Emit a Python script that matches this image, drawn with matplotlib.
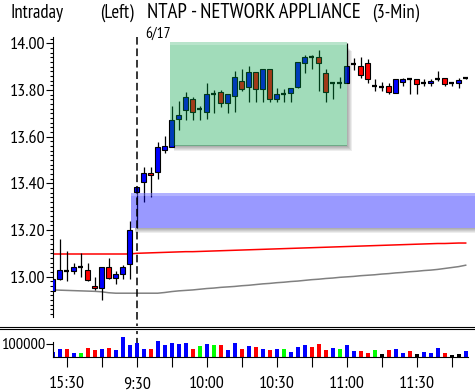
import matplotlib
matplotlib.use("Agg")
import matplotlib.pyplot as plt
from matplotlib.patches import Rectangle
from matplotlib import font_manager as fm
from matplotlib.transforms import blended_transform_factory

# ---------------- data ----------------
times = ['15:24', '15:27', '15:30', '15:33', '15:36', '15:39', '15:42', '15:45', '15:48', '15:51',
         '15:54', '15:57',
         '9:30', '9:33', '9:36', '9:39', '9:42', '9:45', '9:48', '9:51', '9:54', '9:57',
         '10:00', '10:03', '10:06', '10:09', '10:12', '10:15', '10:18', '10:21', '10:24', '10:27',
         '10:30', '10:33', '10:36', '10:39', '10:42', '10:45', '10:48', '10:51', '10:54', '10:57',
         '11:00', '11:03', '11:06', '11:09', '11:12', '11:15', '11:18', '11:21', '11:24', '11:27',
         '11:30', '11:33', '11:36', '11:39', '11:42', '11:45', '11:48', '11:51']

opens = [12.940, 12.990, 13.025, 13.025, 13.040, 13.027, 12.960, 12.950, 13.040, 12.993,
         13.010, 13.053, 13.362, 13.404, 13.446, 13.450, 13.543, 13.557, 13.674, 13.713,
         13.760, 13.720, 13.706, 13.783, 13.790, 13.743, 13.774, 13.840, 13.814, 13.878,
         13.803, 13.889, 13.763, 13.783, 13.786, 13.814, 13.914, 13.940, 13.940, 13.871,
         13.829, 13.829, 13.831, 13.911, 13.903, 13.917, 13.818, 13.814, 13.818, 13.786,
         13.833, 13.847, 13.847, 13.829, 13.829, 13.847, 13.850, 13.829, 13.831, 13.850]
highs = [12.990, 13.160, 13.110, 13.060, 13.100, 13.060, 13.000, 13.040, 13.079, 13.024,
         13.050, 13.239, 13.386, 13.469, 13.469, 13.578, 13.603, 13.730, 13.753, 13.791,
         13.769, 13.730, 13.831, 13.800, 13.800, 13.781, 13.880, 13.889, 13.903, 13.878,
         13.889, 13.889, 13.810, 13.803, 13.810, 13.920, 13.950, 13.950, 13.971, 13.889,
         13.829, 13.857, 14.003, 13.936, 13.940, 13.931, 13.846, 13.835, 13.829, 13.847,
         13.853, 13.847, 13.847, 13.847, 13.847, 13.881, 13.850, 13.829, 13.850, 13.852]
lows = [12.940, 12.985, 12.980, 13.010, 12.997, 12.980, 12.944, 12.900, 12.990, 12.970,
        12.990, 12.990, 13.210, 13.320, 13.340, 13.417, 13.530, 13.555, 13.630, 13.671,
        13.670, 13.670, 13.677, 13.700, 13.728, 13.700, 13.707, 13.797, 13.750, 13.750,
        13.750, 13.749, 13.749, 13.749, 13.749, 13.810, 13.871, 13.889, 13.797, 13.749,
        13.760, 13.810, 13.831, 13.886, 13.850, 13.829, 13.797, 13.797, 13.781, 13.786,
        13.818, 13.783, 13.783, 13.818, 13.818, 13.840, 13.818, 13.818, 13.810, 13.848]
closes = [12.990, 13.027, 13.025, 13.040, 13.040, 12.985, 12.950, 13.040, 12.993, 13.010,
          13.040, 13.200, 13.386, 13.446, 13.436, 13.557, 13.560, 13.670, 13.692, 13.769,
          13.706, 13.720, 13.783, 13.783, 13.743, 13.781, 13.857, 13.803, 13.878, 13.803,
          13.889, 13.760, 13.783, 13.783, 13.810, 13.920, 13.940, 13.940, 13.914, 13.793,
          13.829, 13.829, 13.903, 13.911, 13.864, 13.846, 13.818, 13.814, 13.793, 13.847,
          13.847, 13.847, 13.824, 13.829, 13.840, 13.847, 13.824, 13.829, 13.843, 13.850]

volumes = [34000, 58000, 58000, 26000, 26000, 66000, 50000, 58000, 66000, 50000,
           153000, 89000, 105000, 58000, 58000, 121000, 92000, 105000, 100000, 105000,
           58000, 82000, 97000, 89000, 89000, 50000, 105000, 58000, 82000, 74000,
           58000, 50000, 58000, 58000, 34000, 74000, 89000, 74000, 97000, 50000,
           66000, 58000, 89000, 42000, 42000, 26000, 50000, 18000, 50000, 58000,
           26000, 42000, 18000, 34000, 26000, 66000, 26000, 10000, 18000, 42000]
volume_dir = ['b', 'b', 'r', 'b', 'g', 'r', 'r', 'b', 'r', 'b',
              'b', 'b', 'b', 'b', 'r', 'b', 'b', 'b', 'b', 'b',
              'r', 'g', 'b', 'g', 'r', 'b', 'b', 'r', 'b', 'r',
              'b', 'r', 'b', 'g', 'b', 'b', 'b', 'r', 'r', 'r',
              'b', 'g', 'b', 'b', 'r', 'r', 'g', 'k', 'r', 'b',
              'b', 'r', 'k', 'b', 'b', 'b', 'r', 'k', 'k', 'b']

red_line = [13.097, 13.097, 13.097, 13.097, 13.097, 13.097, 13.097, 13.097, 13.097, 13.097,
            13.097, 13.097, 13.100, 13.101, 13.102, 13.103, 13.104, 13.105, 13.106, 13.107,
            13.107, 13.108, 13.109, 13.110, 13.111, 13.112, 13.113, 13.114, 13.115, 13.116,
            13.117, 13.118, 13.119, 13.120, 13.121, 13.122, 13.123, 13.124, 13.125, 13.126,
            13.127, 13.128, 13.129, 13.130, 13.131, 13.132, 13.133, 13.134, 13.135, 13.136,
            13.137, 13.138, 13.139, 13.140, 13.141, 13.142, 13.142, 13.143, 13.144, 13.144]
gray_line = [12.943, 12.942, 12.941, 12.940, 12.939, 12.938, 12.937, 12.935, 12.931, 12.929,
             12.929, 12.929, 12.929, 12.929, 12.929, 12.929, 12.932, 12.936, 12.939, 12.941,
             12.943, 12.946, 12.949, 12.951, 12.954, 12.956, 12.958, 12.961, 12.963, 12.966,
             12.969, 12.971, 12.974, 12.976, 12.979, 12.981, 12.984, 12.987, 12.989, 12.992,
             12.994, 12.997, 12.999, 13.001, 13.004, 13.006, 13.008, 13.011, 13.013, 13.016,
             13.018, 13.021, 13.023, 13.026, 13.028, 13.031, 13.035, 13.039, 13.043, 13.049]

major_tick_labels = ['15:30', '9:30', '10:00', '10:30', '11:00', '11:30']
minor_tick_times = ['15:45', '9:45', '10:15', '10:45', '11:15', '11:45']
price_ticks = [13.00, 13.20, 13.40, 13.60, 13.80, 14.00]
volume_ticks = [100000]
session_break = '9:30'
session_label = '6/17'

# ---------------- style ----------------
names = {f.name for f in fm.fontManager.ttflist}
FAMILY = 'DejaVu Sans'
for cand in ['PT Sans Narrow', 'Archivo Narrow', 'Roboto Condensed', 'Liberation Sans Narrow']:
    if cand in names:
        FAMILY = cand
        break
plt.rcParams['font.family'] = [FAMILY, 'DejaVu Sans']

W, H = 475, 392
fig = plt.figure(figsize=(W / 100, H / 100), dpi=100)
fig.patch.set_facecolor('white')

def fx(px):
    return px / W

def fy(py):
    return (H - py) / H

AX_L, AX_R, AX_T, AX_B = 52.7, 475, 37, 317
V_T, V_B = 331, 356.7
ax = fig.add_axes([fx(AX_L), fy(AX_B), fx(AX_R - AX_L), fy(AX_T) - fy(AX_B)])
axv = fig.add_axes([fx(AX_L), fy(V_B), fx(AX_R - AX_L), fy(V_T) - fy(V_B)], sharex=ax)

XMAX = (AX_R - AX_L) / 7.0
YMIN, YMAX = 12.827, 14.027
VMAX = 202000
ax.set_xlim(0, XMAX)
ax.set_ylim(YMIN, YMAX)
px_x = XMAX / (AX_R - AX_L)          # data units per pixel, x
px_y = (YMAX - YMIN) / (AX_B - AX_T)  # data units per pixel, y

idx = list(range(len(times)))
BLUE, RED = '#0000ff', '#ff0000'
vcol = {'b': '#0000ff', 'r': '#ff0000', 'g': '#00ff00', 'k': '#000000'}

# lines
ax.plot(idx, red_line, color='#ff0000', lw=1.1, zorder=2)
ax.plot(idx, gray_line, color='#808080', lw=1.1, zorder=2)

# candles
bw = 0.64
for i, o, h, l, c in zip(idx, opens, highs, lows, closes):
    ax.vlines(i, l, h, color='black', lw=0.9, zorder=3)
    if abs(c - o) < 1e-6:
        ax.hlines(c, i - bw / 2, i + bw / 2, color='black', lw=1.6, zorder=4)
    else:
        ax.add_patch(Rectangle((i - bw / 2, min(o, c)), bw, abs(c - o),
                               facecolor=BLUE if c > o else RED, edgecolor='black',
                               lw=0.8, zorder=4))

# highlight boxes (annotation shapes) with drop shadow outside the box
def shadow_box(x0, x1, y0, y1, color, alpha, z):
    for k in range(1, 6):
        dx, dy = k * px_x, k * px_y
        ax.add_patch(Rectangle((x1, y0 - dy), dx, y1 - y0 - 4 * px_y, facecolor='black',
                               alpha=0.07, edgecolor='none', zorder=z))
        ax.add_patch(Rectangle((x0 + 4 * px_x, y0 - dy), x1 - x0 - 4 * px_x, dy,
                               facecolor='black', alpha=0.07, edgecolor='none', zorder=z))
    ax.add_patch(Rectangle((x0, y0), x1 - x0, y1 - y0, facecolor=color, alpha=alpha,
                           edgecolor='none', zorder=z))
    ax.add_patch(Rectangle((x0, y1 - 3 * px_y), x1 - x0, 3 * px_y, facecolor='white',
                           alpha=0.25, edgecolor='none', zorder=z + 0.1))

shadow_box(16.76, 42.05, 13.562, 14.006, '#00a244', 0.37, 5)
shadow_box(11.2, 62.0, 13.207, 13.357, '#0000ff', 0.40, 5)

# session divider
brk = times.index(session_break)
tr = blended_transform_factory(ax.transData, ax.transAxes)
ax.plot([brk, brk], [1.0, -0.033], transform=tr, color='black', lw=1.1,
        ls=(0, (5, 2.5)), clip_on=False, zorder=6)
axv.axvline(brk, color='black', lw=1.1, ls=(0, (5, 2.5)), zorder=1)
ax.text(brk + 1.2, fy(37.5), session_label,
        transform=blended_transform_factory(ax.transData, fig.transFigure),
        ha='left', va='baseline', fontsize=11.2)

# price axis
for s in ['top', 'right', 'bottom']:
    ax.spines[s].set_visible(False)
ax.spines['left'].set_linewidth(0.8)
ax.set_yticks(price_ticks)
ax.set_yticklabels([f'{v:.2f}' for v in price_ticks])
ax.set_yticks([13.00 + 0.02 * k for k in range(-8, 52)], minor=True)
ax.tick_params(axis='y', which='major', length=5, width=0.8, pad=0.5, labelsize=13)
ax.tick_params(axis='y', which='minor', length=2.2, width=0.8)
ax.tick_params(axis='x', which='both', bottom=False, labelbottom=False)

# volume
axv.bar(idx, volumes, width=0.57, color=[vcol[c] for c in volume_dir], edgecolor='none', zorder=2)
axv.set_ylim(0, VMAX)
for s in ['top', 'right']:
    axv.spines[s].set_visible(False)
axv.spines['left'].set_linewidth(0.8)
axv.spines['bottom'].set_linewidth(0.8)
axv.spines['bottom'].set_bounds(0, 59.3)
axv.spines['left'].set_bounds(0, 118000)
axv.set_yticks(volume_ticks)
axv.set_yticklabels([str(v) for v in volume_ticks])
axv.tick_params(axis='y', length=5, width=0.8, pad=0.5, labelsize=11.8)
axv.set_xticks([times.index(t) for t in major_tick_labels])
axv.set_xticklabels(major_tick_labels)
axv.set_xticks([times.index(t) for t in minor_tick_times], minor=True)
axv.tick_params(axis='x', which='both', length=7.2, width=0.8, pad=7, labelsize=13)

# panel separator (double line)
for yy in (326.6, 329.4):
    fig.add_artist(plt.Line2D([0, 1], [fy(yy), fy(yy)], transform=fig.transFigure,
                              color='black', lw=0.8))

# title
fig.text(fx(10), fy(18), 'Intraday', ha='left', va='baseline', fontsize=13.5)
fig.text(fx(100), fy(18), '(Left)', ha='left', va='baseline', fontsize=13.5)
fig.text(fx(147), fy(18), 'NTAP - NETWORK APPLIANCE', ha='left', va='baseline', fontsize=15)
fig.text(fx(372), fy(18), '(3-Min)', ha='left', va='baseline', fontsize=13.5)

fig.savefig('out.png', dpi=100, facecolor='white')
